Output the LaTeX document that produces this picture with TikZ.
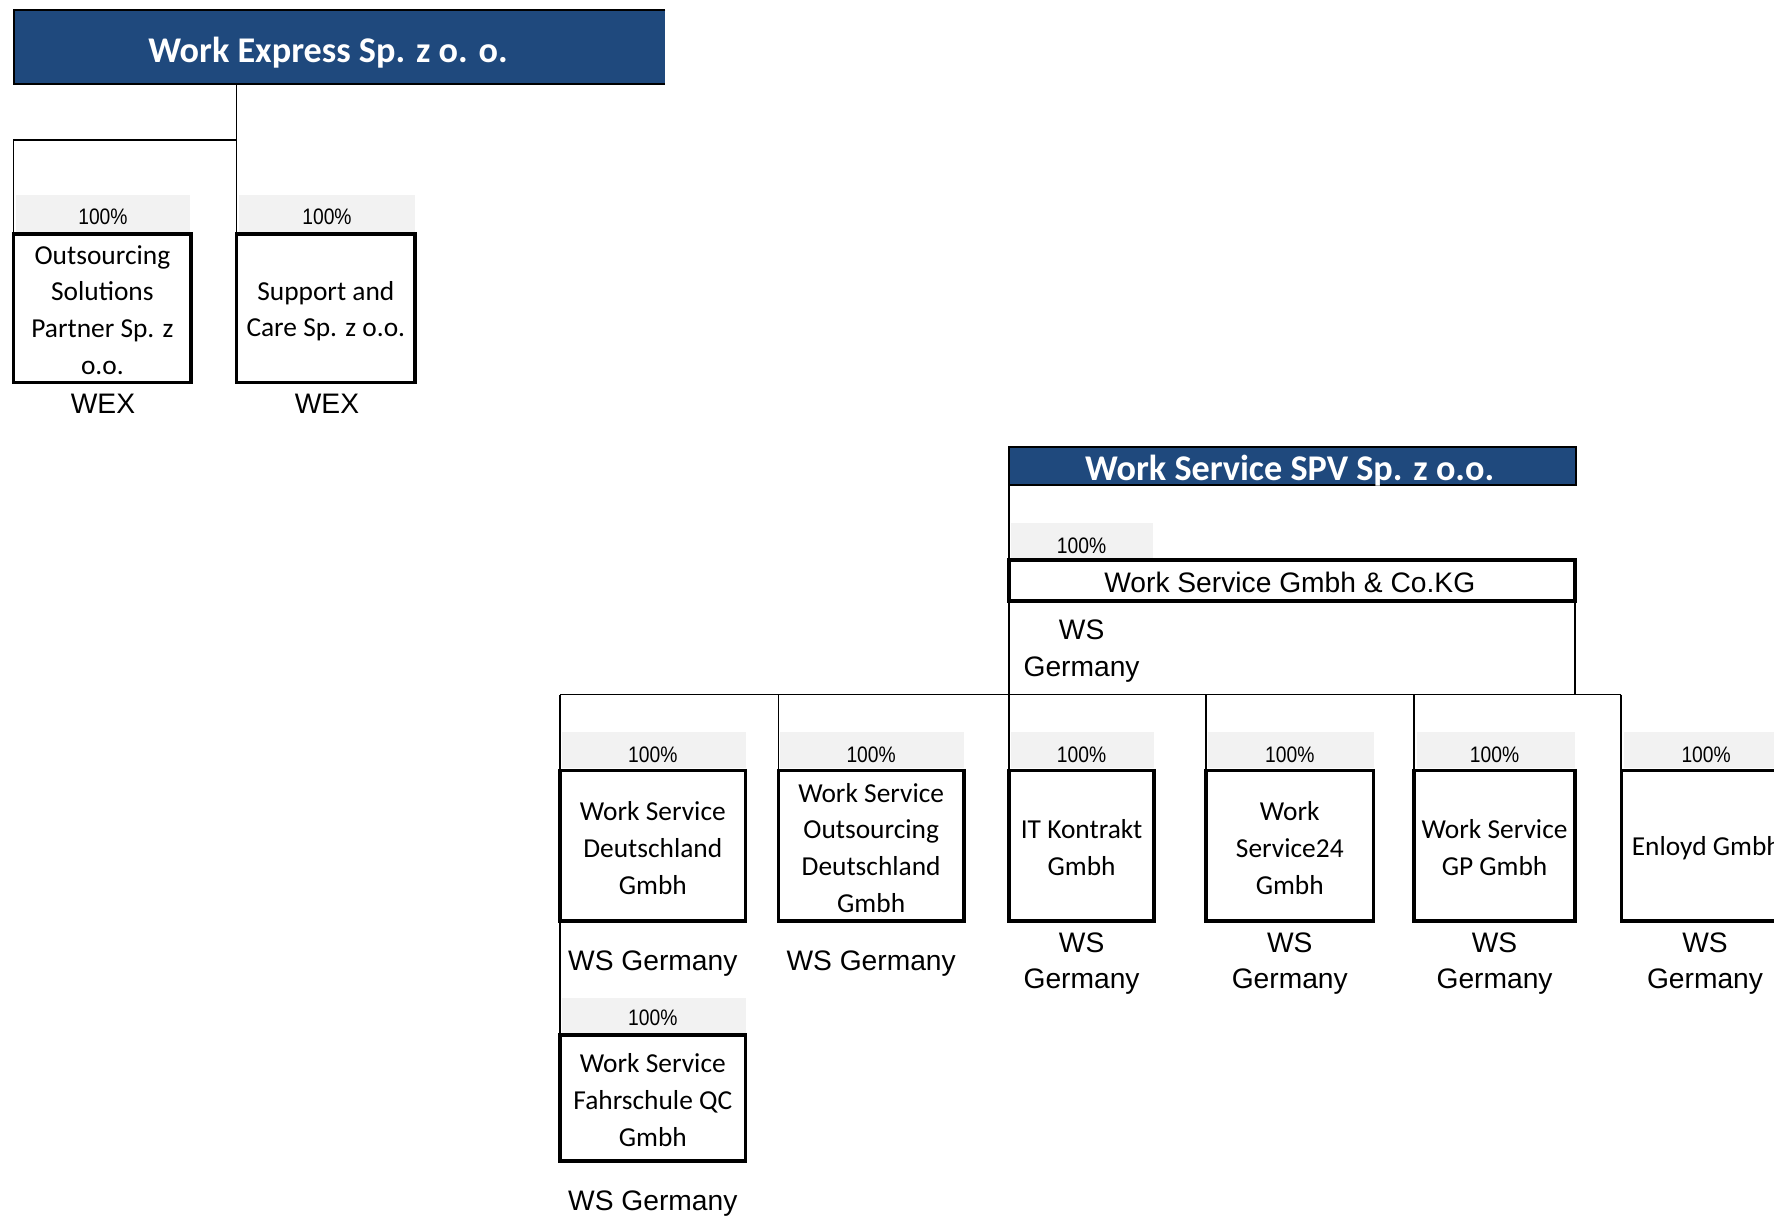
\documentclass[tikz,border=0pt]{standalone}
\usepackage{fontspec}
\setmainfont{Liberation Sans}
\newfontfamily\calibri{Carlito}
\newfontfamily\narrowfont[FakeStretch=0.86]{Liberation Sans}
\definecolor{hdrblue}{RGB}{31,73,125}
\definecolor{pctgray}{RGB}{242,242,242}
\def\unitpx{0.5657pt}
\tikzset{
  sz/.style 2 args={minimum width={#1*\unitpx}, minimum height={#2*\unitpx}},
  entity/.style={draw, line width=1.75pt, inner sep=0pt, outer sep=0pt},
  boxtext/.style={align=center, inner sep=0pt, font=\calibri\fontsize{13.7}{18.4}\selectfont},
  pctbg/.style={fill=pctgray, inner sep=0pt, outer sep=0pt},
  pcttext/.style={inner sep=0pt, font=\narrowfont\fontsize{11.2}{13}\selectfont},
  owner/.style={align=center, inner sep=0pt, font=\fontsize{14.1}{18.1}\selectfont},
  conn/.style={line width=0.8pt},
  hdr/.style={fill=hdrblue, inner sep=0pt, outer sep=0pt},
  hdrtext/.style={text=white, inner sep=0pt, font=\calibri\bfseries\fontsize{18.1}{22}\selectfont},
}
\begin{document}
\begin{tikzpicture}[x=0.5657pt, y=-0.5657pt]
\useasboundingbox (0,0) rectangle (1568,1075);
\clip (0,0) rectangle (1568,1075);
\fill[white] (0,0) rectangle (1568,1075);

% ---------- Work Express group ----------
\node[hdr, sz={576}{65}] (h1) at (300,41.5) {};
\draw[line width=1pt] (h1.north east) -- (h1.north west) -- (h1.south west) -- (h1.south east);
\node[hdrtext] (h1t) at (290,46.5) {Work Express Sp. z o. o.};

\node[pctbg, sz={154}{33}] (p1) at (91,188.5) {};
\node[pctbg, sz={156}{33}] (p2) at (289,188.5) {};
\node[pcttext] (p1t) at (91,192) {100\%};
\node[pcttext] (p2t) at (289,192) {100\%};

\node[entity, sz={157}{131}] (b1) at (90.5,272.5) {};
\node[entity, sz={158}{131}] (b2) at (288,272.5) {};
\node[boxtext] (b1t) at (90.5,274) {Outsourcing\\Solutions\\Partner Sp. z\\o.o.};
\node[boxtext] (b2t) at (288,275) {Support and\\Care Sp. z o.o.};

\draw[conn] (b2.north west |- h1.south) -- (b2.north west);
\draw[conn] (b2.north west |- 0,124) -| (b1.north west);

\node[owner] (o1) at (91,357) {WEX};
\node[owner] (o2) at (289,357) {WEX};

% ---------- Work Service SPV group ----------
\node[hdr, draw, line width=1pt, sz={501}{34}] (spv) at (1142.5,412) {};
\node[hdrtext] (spvt) at (1140,416) {Work Service SPV Sp. z o.o.};

\node[pctbg, sz={125}{31}] (pkg) at (956.5,477.5) {};
\node[pcttext] (pkgt) at (956,482) {100\%};
\node[entity, sz={500}{36}] (kg) at (1142,513) {};
\node[owner] (kgt) at (1140,515) {Work Service Gmbh \& Co.KG};
\node[owner] (okg) at (956,575.5) {WS\\Germany};

% percent backgrounds of children
\node[pctbg, sz={162}{32}] (pc1) at (578,663) {};
\node[pctbg, sz={163}{32}] (pc2) at (770.5,663) {};
\node[pctbg, sz={126}{32}] (pc3) at (957,663) {};
\node[pctbg, sz={146}{32}] (pc4) at (1141,663) {};
\node[pctbg, sz={140}{32}] (pc5) at (1322,663) {};
\node[pctbg, sz={148}{32}] (pc6) at (1509,663) {};
\node[pctbg, sz={162}{31}] (pc7) at (578,897.5) {};

\node[pcttext] (pc1t) at (577,667) {100\%};
\node[pcttext] (pc2t) at (770,667) {100\%};
\node[pcttext] (pc3t) at (956,667) {100\%};
\node[pcttext] (pc4t) at (1140,667) {100\%};
\node[pcttext] (pc5t) at (1321,667) {100\%};
\node[pcttext] (pc6t) at (1508,667) {100\%};
\node[pcttext] (pc7t) at (577,900) {100\%};

% child entities
\node[entity, sz={164}{133}] (c1) at (577,747.5) {};
\node[entity, sz={164}{133}] (c2) at (770,747.5) {};
\node[entity, sz={128}{133}] (c3) at (956,747.5) {};
\node[entity, sz={148}{133}] (c4) at (1140,747.5) {};
\node[entity, sz={142}{133}] (c5) at (1321,747.5) {};
\node[entity, sz={149}{133}] (c6) at (1507.5,747.5) {};
\node[entity, sz={164}{111}] (c7) at (577,970.5) {};

\node[boxtext] (c1t) at (577,749.5) {Work Service\\Deutschland\\Gmbh};
\node[boxtext] (c2t) at (770,749.5) {Work Service\\Outsourcing\\Deutschland\\Gmbh};
\node[boxtext] (c3t) at (956,749.5) {IT Kontrakt\\Gmbh};
\node[boxtext] (c4t) at (1140,749.5) {Work\\Service24\\Gmbh};
\node[boxtext] (c5t) at (1321,749.5) {Work Service\\GP Gmbh};
\node[boxtext, anchor=west] (c6t) at (1442,749.5) {Enloyd Gmbh};
\node[boxtext] (c7t) at (577,972.5) {Work Service\\Fahrschule QC\\Gmbh};

% connectors
\coordinate (bus) at (0,614);
\draw[conn] (spv.south west) -- (kg.north west);
\draw[conn] (kg.south west) -- (c3.north west);
\draw[conn] (kg.south east) -- (kg.south east |- bus);
\draw[conn] (c1.north west |- bus) -- (c6.north west |- bus);
\draw[conn] (c1.north west |- bus) -- (c1.north west);
\draw[conn] (c2.north west |- bus) -- (c2.north west);
\draw[conn] (c4.north west |- bus) -- (c4.north west);
\draw[conn] (c5.north west |- bus) -- (c5.north west);
\draw[conn] (c6.north west |- bus) -- (c6.north west);
\draw[conn] (c1.south west) -- (c7.north west);

% owner labels
\node[owner] (oc1) at (577,851.5) {WS Germany};
\node[owner] (oc2) at (770,851.5) {WS Germany};
\node[owner] (oc3) at (956,851.5) {WS\\Germany};
\node[owner] (oc4) at (1140,851.5) {WS\\Germany};
\node[owner] (oc5) at (1321,851.5) {WS\\Germany};
\node[owner] (oc6) at (1507,851.5) {WS\\Germany};
\node[owner] (oc7) at (577,1063.5) {WS Germany};
\end{tikzpicture}
\end{document}
